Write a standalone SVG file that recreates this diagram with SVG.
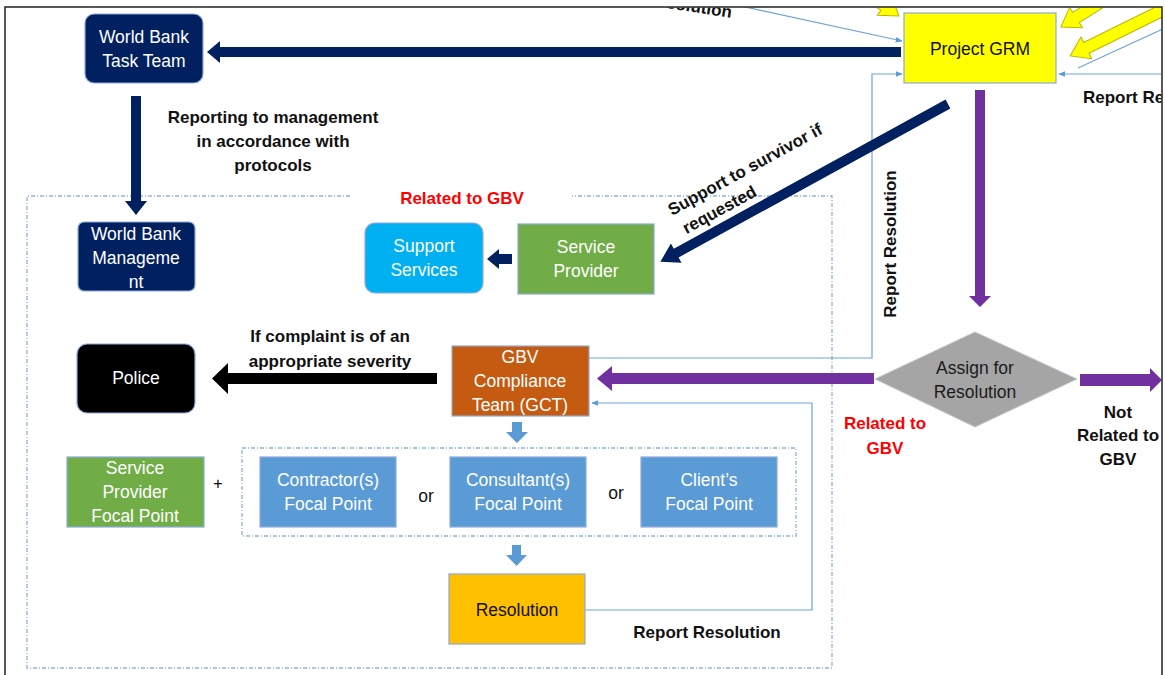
<svg xmlns="http://www.w3.org/2000/svg" width="1165" height="675" viewBox="0 0 1165 675">
  <defs>
    <clipPath id="frame">
      <rect x="5.5" y="7.5" width="1156" height="668"/>
    </clipPath>
    <marker id="tip" viewBox="0 0 10 10" refX="9" refY="5" markerWidth="7" markerHeight="7" markerUnits="userSpaceOnUse" orient="auto">
      <path d="M0,1 L10,5 L0,9 Z" fill="#5b9bd5"/>
    </marker>
    <style>
      text { font-family: "Liberation Sans", Arial, sans-serif; }
      .box { stroke: #8eaadb; stroke-width: 1.2; }
      .wt { fill: #ffffff; font-size: 17.5px; text-anchor: middle; }
      .bk { fill: #111111; font-size: 17.5px; text-anchor: middle; }
      .lbl { fill: #111111; font-size: 17px; font-weight: bold; text-anchor: middle; }
      .red { fill: #ff0000; font-size: 17px; font-weight: bold; text-anchor: middle; }
      .thin { fill: none; stroke: #6fa3d8; stroke-width: 1.2; }
      .group { fill: none; stroke: #8fb1d9; stroke-width: 1.3; stroke-dasharray: 4 2 1 2; }
      .navy { fill: #002060; }
      .purple { fill: #7030a0; }
      .blue { fill: #5b9bd5; }
      .yellow { fill: #ffff00; stroke: #b8b800; stroke-width: 1; }
    </style>
  </defs>

  <rect width="1165" height="675" fill="#ffffff"/>

  <g clip-path="url(#frame)">
    <!-- dashed grouping frames -->
    <g id="groups">
      <path class="group" d="M350,196 H27 V668 H832 V196 H572"/>
      <rect class="group" x="242" y="448" width="554" height="88"/>
    </g>

    <!-- connectors -->
    <g id="connectors">
      <!-- incoming block arrows at Project GRM -->
      <polygon class="yellow" transform="translate(860,-12) rotate(35.7)" points="0,-6 30,-6 30,-12 48,0 30,12 30,6 0,6"/>
      <polygon class="yellow" transform="translate(1115,-7) rotate(147.8)" points="0,-6 46,-6 46,-12 64,0 46,12 46,6 0,6"/>
      <polygon class="yellow" transform="translate(1175,4) rotate(153.66)" points="0,-6 99,-6 99,-12 117,0 99,12 99,6 0,6"/>

      <!-- thin report lines -->
      <line class="thin" x1="690" y1="-5" x2="902" y2="41" marker-end="url(#tip)"/>
      <line class="thin" x1="1163" y1="29" x2="1078" y2="68"/>
      <line class="thin" x1="1165" y1="74" x2="1059" y2="74" marker-end="url(#tip)"/>
      <polyline class="thin" points="589,358 872,358 872,74 902,74" marker-end="url(#tip)"/>
      <polyline class="thin" points="585,610 812,610 812,403 592,403" marker-end="url(#tip)"/>

      <!-- Project GRM -> World Bank Task Team -->
      <polygon class="navy" points="901,47 220,47 220,41 207,52 220,63 220,57 901,57"/>
      <!-- Task Team -> Management -->
      <polygon class="navy" points="131,96 141,96 141,201 147,201 136,215 125,201 131,201"/>
      <!-- Project GRM -> Service Provider -->
      <polygon class="navy" transform="translate(948,104) rotate(151.26)" points="0,-5 310,-5 310,-11 328,0 310,11 310,5 0,5"/>
      <!-- Service Provider -> Support Services -->
      <polygon class="navy" points="512,254 499,254 499,249 487,259 499,269 499,264 512,264"/>
      <!-- GCT -> Police -->
      <polygon fill="#000000" points="437,373 228,373 228,363 212,378.5 228,394 228,384 437,384"/>
      <!-- Project GRM -> Assign -->
      <polygon class="purple" points="975,90 985,90 985,296 991,296 980,307 969,296 975,296"/>
      <!-- Assign -> GCT -->
      <polygon class="purple" points="874,373 612,373 612,366 597,378.5 612,391 612,384 874,384"/>
      <!-- Assign -> not related -->
      <polygon class="purple" points="1080,374 1150,374 1150,368 1162,380 1150,392 1150,386 1080,386"/>
      <!-- GCT -> focal points -> Resolution -->
      <polygon class="blue" points="512,422 522,422 522,432 528,432 517,443 506,432 512,432"/>
      <polygon class="blue" points="512,545 521,545 521,555 527,555 516.5,566 506,555 512,555"/>
    </g>

    <!-- connector labels -->
    <g id="labels">
      <text class="lbl" transform="translate(731,18) rotate(9)" style="text-anchor:end">Report Resolution</text>
      <text class="lbl" x="1083" y="103" style="text-anchor:start">Report Resolution</text>
      <text class="lbl" x="273" y="123">Reporting to management</text>
      <text class="lbl" x="273" y="147">in accordance with</text>
      <text class="lbl" x="273" y="171">protocols</text>
      <text class="red" x="462" y="204">Related to GBV</text>
      <g transform="translate(672,216) rotate(-28.7)">
        <text class="lbl" x="0" y="0" style="text-anchor:start">Support to survivor if</text>
        <text class="lbl" x="4" y="23" style="text-anchor:start">requested</text>
      </g>
      <text class="lbl" transform="translate(896,244) rotate(-90)">Report Resolution</text>
      <text class="lbl" x="330" y="342">If complaint is of an</text>
      <text class="lbl" x="330" y="367">appropriate severity</text>
      <text class="red" x="885" y="429">Related to</text>
      <text class="red" x="885" y="454">GBV</text>
      <text class="lbl" x="1118" y="418">Not</text>
      <text class="lbl" x="1118" y="441">Related to</text>
      <text class="lbl" x="1118" y="465">GBV</text>
      <text class="lbl" x="707" y="638">Report Resolution</text>
      <text x="218" y="489" style="fill:#000000;font-size:16px;text-anchor:middle">+</text>
      <text class="bk" x="426" y="502">or</text>
      <text class="bk" x="616" y="499">or</text>
    </g>

    <!-- nodes -->
    <g id="project-grm">
      <rect class="box" x="904" y="13" width="152" height="70" fill="#ffff00"/>
      <text class="bk" x="980" y="55">Project GRM</text>
    </g>
    <g id="wb-task-team">
      <rect class="box" x="85" y="14" width="118" height="69" rx="9" fill="#002060"/>
      <text class="wt" x="144" y="43">World Bank</text>
      <text class="wt" x="144" y="67">Task Team</text>
    </g>
    <g id="wb-management">
      <rect class="box" x="78" y="222" width="117" height="69" rx="6" fill="#002060"/>
      <text class="wt" x="136" y="240">World Bank</text>
      <text class="wt" x="136" y="264">Manageme</text>
      <text class="wt" x="136" y="288">nt</text>
    </g>
    <g id="support-services">
      <rect class="box" x="365" y="223" width="118" height="70" rx="10" fill="#00b0f0"/>
      <text class="wt" x="424" y="252">Support</text>
      <text class="wt" x="424" y="276">Services</text>
    </g>
    <g id="service-provider">
      <rect class="box" x="518" y="224" width="136" height="70" fill="#70ad47"/>
      <text class="wt" x="586" y="253">Service</text>
      <text class="wt" x="586" y="277">Provider</text>
    </g>
    <g id="police">
      <rect class="box" x="77" y="344" width="118" height="69" rx="10" fill="#000000"/>
      <text class="wt" x="136" y="384">Police</text>
    </g>
    <g id="gct">
      <rect class="box" x="452" y="346" width="137" height="70" fill="#c55a11"/>
      <text class="wt" x="520" y="363">GBV</text>
      <text class="wt" x="520" y="387">Compliance</text>
      <text class="wt" x="520" y="411">Team (GCT)</text>
    </g>
    <g id="assign">
      <polygon points="875,379 975,332 1077,379 975,427" fill="#a5a5a5" stroke="#c0c8d4" stroke-width="1"/>
      <text class="bk" x="975" y="374" style="fill:#1a1a1a">Assign for</text>
      <text class="bk" x="975" y="398" style="fill:#1a1a1a">Resolution</text>
    </g>
    <g id="sp-focal-point">
      <rect class="box" x="67" y="457" width="137" height="70" fill="#70ad47"/>
      <text class="wt" x="135" y="474">Service</text>
      <text class="wt" x="135" y="498">Provider</text>
      <text class="wt" x="135" y="522">Focal Point</text>
    </g>
    <g id="contractor-focal-point">
      <rect class="box" x="260" y="457" width="136" height="70" fill="#5b9bd5"/>
      <text class="wt" x="328" y="486">Contractor(s)</text>
      <text class="wt" x="328" y="510">Focal Point</text>
    </g>
    <g id="consultant-focal-point">
      <rect class="box" x="450" y="457" width="136" height="70" fill="#5b9bd5"/>
      <text class="wt" x="518" y="486">Consultant(s)</text>
      <text class="wt" x="518" y="510">Focal Point</text>
    </g>
    <g id="client-focal-point">
      <rect class="box" x="641" y="457" width="136" height="70" fill="#5b9bd5"/>
      <text class="wt" x="709" y="486">Client’s</text>
      <text class="wt" x="709" y="510">Focal Point</text>
    </g>
    <g id="resolution">
      <rect class="box" x="449" y="574" width="136" height="70" fill="#ffc000"/>
      <text class="bk" x="517" y="616">Resolution</text>
    </g>
  </g>

  <!-- outer frame -->
  <path d="M5,675 V7 H1162 V675" fill="none" stroke="#222222" stroke-width="1.5"/>
</svg>
